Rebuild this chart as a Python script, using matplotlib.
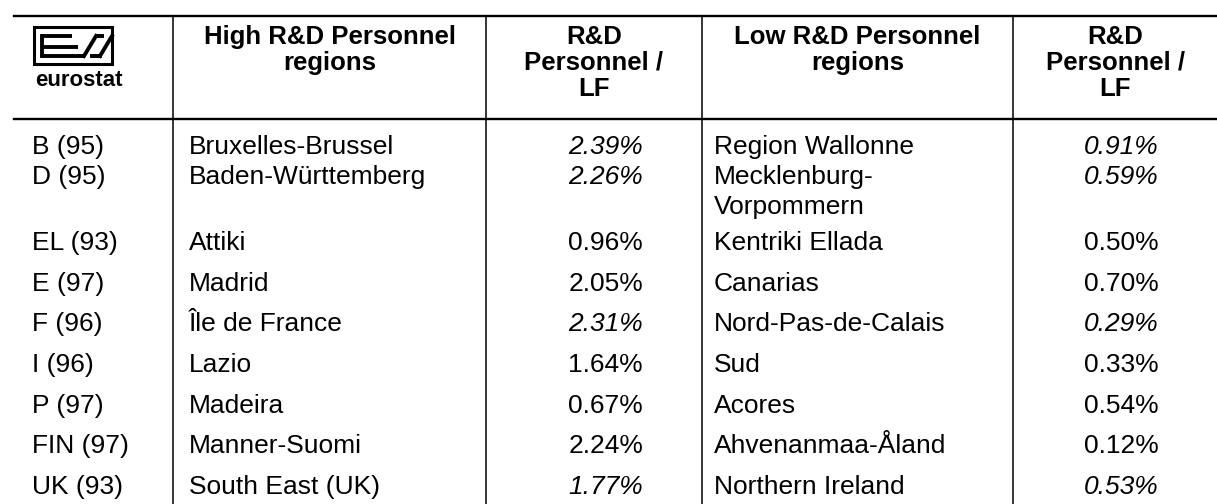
import matplotlib.pyplot as plt

# Table contents
countries = ['B (95)', 'D (95)', 'EL (93)', 'E (97)', 'F (96)', 'I (96)', 'P (97)', 'FIN (97)', 'UK (93)']
high_regions = ['Bruxelles-Brussel', 'Baden-Württemberg', 'Attiki', 'Madrid', 'Île de France',
                'Lazio', 'Madeira', 'Manner-Suomi', 'South East (UK)']
high_values = [2.39, 2.26, 0.96, 2.05, 2.31, 1.64, 0.67, 2.24, 1.77]
high_italic = [True, True, False, False, True, False, False, False, True]
low_regions = ['Region Wallonne', 'Mecklenburg-\nVorpommern', 'Kentriki Ellada', 'Canarias',
               'Nord-Pas-de-Calais', 'Sud', 'Acores', 'Ahvenanmaa-Åland', 'Northern Ireland']
low_values = [0.91, 0.59, 0.50, 0.70, 0.29, 0.33, 0.54, 0.12, 0.53]
low_italic = [True, True, False, False, True, False, False, False, True]
headers = ['High R&D Personnel\nregions', 'R&D\nPersonnel /\nLF',
           'Low R&D Personnel\nregions', 'R&D\nPersonnel /\nLF']

plt.rcParams['font.family'] = ['Liberation Sans', 'DejaVu Sans']

W, H = 1217, 504
fig = plt.figure(figsize=(W / 100, H / 100), dpi=100)
ax = fig.add_axes([0, 0, 1, 1])
ax.set_xlim(0, W)
ax.set_ylim(H, 0)
ax.axis('off')

fs = 19
col_lines = [173, 486, 702, 1013]

# Grid lines
ax.plot([14, W], [16, 16], color='black', lw=1.7)
ax.plot([14, W], [119, 119], color='black', lw=1.7)
for x in col_lines:
    ax.plot([x, x], [16, H], color='black', lw=1.1)

# Header, one line at a time
head_x = [(173 + 486) / 2, (486 + 702) / 2, (702 + 1013) / 2, (1013 + W) / 2]
for hx, txt in zip(head_x, headers):
    for k, line in enumerate(txt.split('\n')):
        ax.text(hx, 37 + k * 26, line, ha='center', va='center', fontsize=18.5,
                fontweight='bold')

# eurostat logo
ax.add_patch(plt.Rectangle((34, 27), 78, 37, fill=False, lw=2.2, color='black'))
for yy, x1 in [(36, 72), (47, 78)]:
    ax.plot([42, x1], [yy, yy], color='black', lw=2.8, solid_capstyle='butt')
ax.plot([42, 42], [36, 56], color='black', lw=2.8)
ax.plot([42, 84], [56, 56], color='black', lw=2.8, solid_capstyle='butt')
ax.plot([84, 96], [56, 36], color='black', lw=2.8)
ax.plot([90, 102], [56, 56], color='black', lw=2.8, solid_capstyle='butt')
ax.plot([100, 112], [56, 36], color='black', lw=2.8)
ax.plot([96, 104], [36, 36], color='black', lw=2.8, solid_capstyle='butt')
ax.text(79, 80, 'eurostat', ha='center', va='center', fontsize=16, fontweight='bold')

# Body rows
row_y = [147, 177]
y = 243
for _ in range(len(countries) - 2):
    row_y.append(y)
    y += 40.7

for i, ry in enumerate(row_y):
    ax.text(32, ry, countries[i], ha='left', va='center', fontsize=fs)
    ax.text(189, ry, high_regions[i], ha='left', va='center', fontsize=fs)
    ax.text(643, ry, f'{high_values[i]:.2f}%', ha='right', va='center', fontsize=fs,
            style='italic' if high_italic[i] else 'normal')
    for k, line in enumerate(low_regions[i].split('\n')):
        ax.text(714, ry + k * 30, line, ha='left', va='center', fontsize=fs)
    ax.text(1159, ry, f'{low_values[i]:.2f}%', ha='right', va='center', fontsize=fs,
            style='italic' if low_italic[i] else 'normal')

fig.savefig('out.png', dpi=100)
